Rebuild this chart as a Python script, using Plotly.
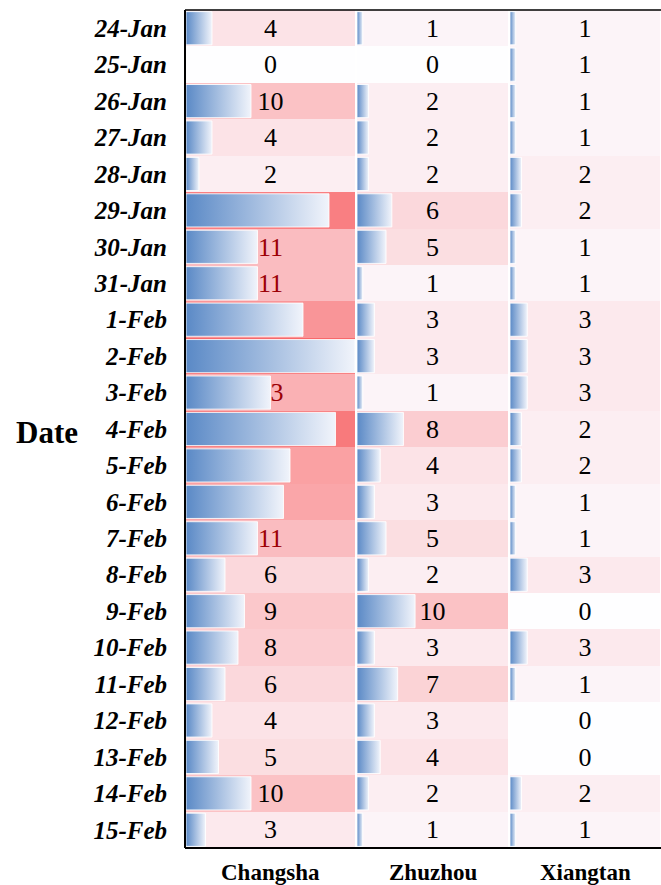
import plotly.graph_objects as go

# ---------------- data ----------------
dates = ["24-Jan", "25-Jan", "26-Jan", "27-Jan", "28-Jan", "29-Jan", "30-Jan", "31-Jan",
         "1-Feb", "2-Feb", "3-Feb", "4-Feb", "5-Feb", "6-Feb", "7-Feb", "8-Feb",
         "9-Feb", "10-Feb", "11-Feb", "12-Feb", "13-Feb", "14-Feb", "15-Feb"]
cities = ["Changsha", "Zhuzhou", "Xiangtan"]
changsha = [4, 0, 10, 4, 2, 22, 11, 11, 18, 26, 13, 23, 16, 15, 11, 6, 9, 8, 6, 4, 5, 10, 3]
zhuzhou = [1, 0, 2, 2, 2, 6, 5, 1, 3, 3, 1, 8, 4, 3, 5, 2, 10, 3, 7, 3, 4, 2, 1]
xiangtan = [1, 1, 1, 1, 2, 2, 1, 1, 3, 3, 3, 2, 2, 1, 1, 3, 0, 3, 1, 0, 0, 2, 1]

# ---------------- layout constants ----------------
series = [changsha, zhuzhou, xiangtan]
n = len(dates)
vmax = max(max(s) for s in series)
col_edges = [0, 171, 324, 476]   # column boundaries in plot units (pixels)
GAP = 2
FONT = "Liberation Serif, Times New Roman, serif"

fig = go.Figure()

# heat-map background (shared white -> red scale)
z = [[series[c][r] for c in range(3)] for r in range(n)]
fig.add_trace(go.Heatmap(
    z=z, x=col_edges, y=list(range(n)),
    colorscale=[[0, "#FEFEFF"], [0.0385, "#FCF4F8"], [1, "#F8696B"]], zmin=0, zmax=vmax,
    xgap=GAP, ygap=0, showscale=False, hoverinfo="skip"))

# value labels (drawn beneath the data bars)
for c in range(3):
    cx = (col_edges[c] + col_edges[c + 1]) / 2
    for dark, color in [(False, "#000000"), (True, "#9C0006")]:
        xs, ys, ts = [], [], []
        for r in range(n):
            v = series[c][r]
            if (v > 10) == dark:
                xs.append(cx)
                ys.append(r + 0.06)
                ts.append(str(v))
        fig.add_trace(go.Scatter(
            x=xs, y=ys, text=ts, mode="text", textposition="middle center",
            textfont=dict(family=FONT, size=26, color=color),
            showlegend=False, hoverinfo="skip"))

# gradient data bars
for c in range(3):
    left = col_edges[c] + 1
    avail = col_edges[c + 1] - col_edges[c] - GAP
    for r in range(n):
        v = series[c][r]
        if v <= 0:
            continue
        x0 = left
        x1 = left + v / vmax * avail
        y0, y1 = r - 0.455, r + 0.455
        fig.add_trace(go.Scatter(
            x=[x0, x1, x1, x0, x0], y=[y0, y0, y1, y1, y0],
            mode="lines", fill="toself",
            fillgradient=dict(type="horizontal",
                              colorscale=[[0, "#5A89C6"], [1, "#F1F4FB"]]),
            line=dict(color="rgba(255,255,255,0.85)", width=1),
            showlegend=False, hoverinfo="skip"))

# column headers
annotations = []
for c, name in enumerate(cities):
    cx = (col_edges[c] + col_edges[c + 1]) / 2
    annotations.append(dict(
        x=cx, xref="x", y=0, yref="paper", yshift=-24, yanchor="middle",
        text="<b>%s</b>" % name, showarrow=False,
        font=dict(family=FONT, size=23, color="black")))
annotations.append(dict(
    x=-0.29, xref="paper", y=0.4964, yref="paper", xanchor="center", yanchor="middle",
    text="<b>Date</b>", showarrow=False,
    font=dict(family=FONT, size=31, color="black")))

shapes = [
    dict(type="line", xref="paper", yref="paper", x0=0, x1=0, y0=0, y1=1,
         line=dict(color="black", width=2)),
    dict(type="line", xref="paper", yref="paper", x0=0, x1=1, y0=1, y1=1,
         line=dict(color="black", width=1.5)),
    dict(type="line", xref="paper", yref="paper", x0=0, x1=1, y0=0, y1=0,
         line=dict(color="black", width=2)),
]

fig.update_layout(
    width=661, height=885,
    margin=dict(l=185, r=0, t=10, b=37),
    paper_bgcolor="white", plot_bgcolor="white",
    showlegend=False,
    annotations=annotations, shapes=shapes,
    xaxis=dict(range=[0, col_edges[-1]], showticklabels=False, showgrid=False,
               zeroline=False, ticks="", fixedrange=True),
    yaxis=dict(range=[n - 0.5, -0.5], tickvals=list(range(n)), ticktext=dates,
               showgrid=False, zeroline=False, ticks="", ticklabelstandoff=17,
               tickfont=dict(family=FONT, size=25, color="black",
                             weight="bold", style="italic"),
               fixedrange=True),
)

fig.write_html("out.html")
